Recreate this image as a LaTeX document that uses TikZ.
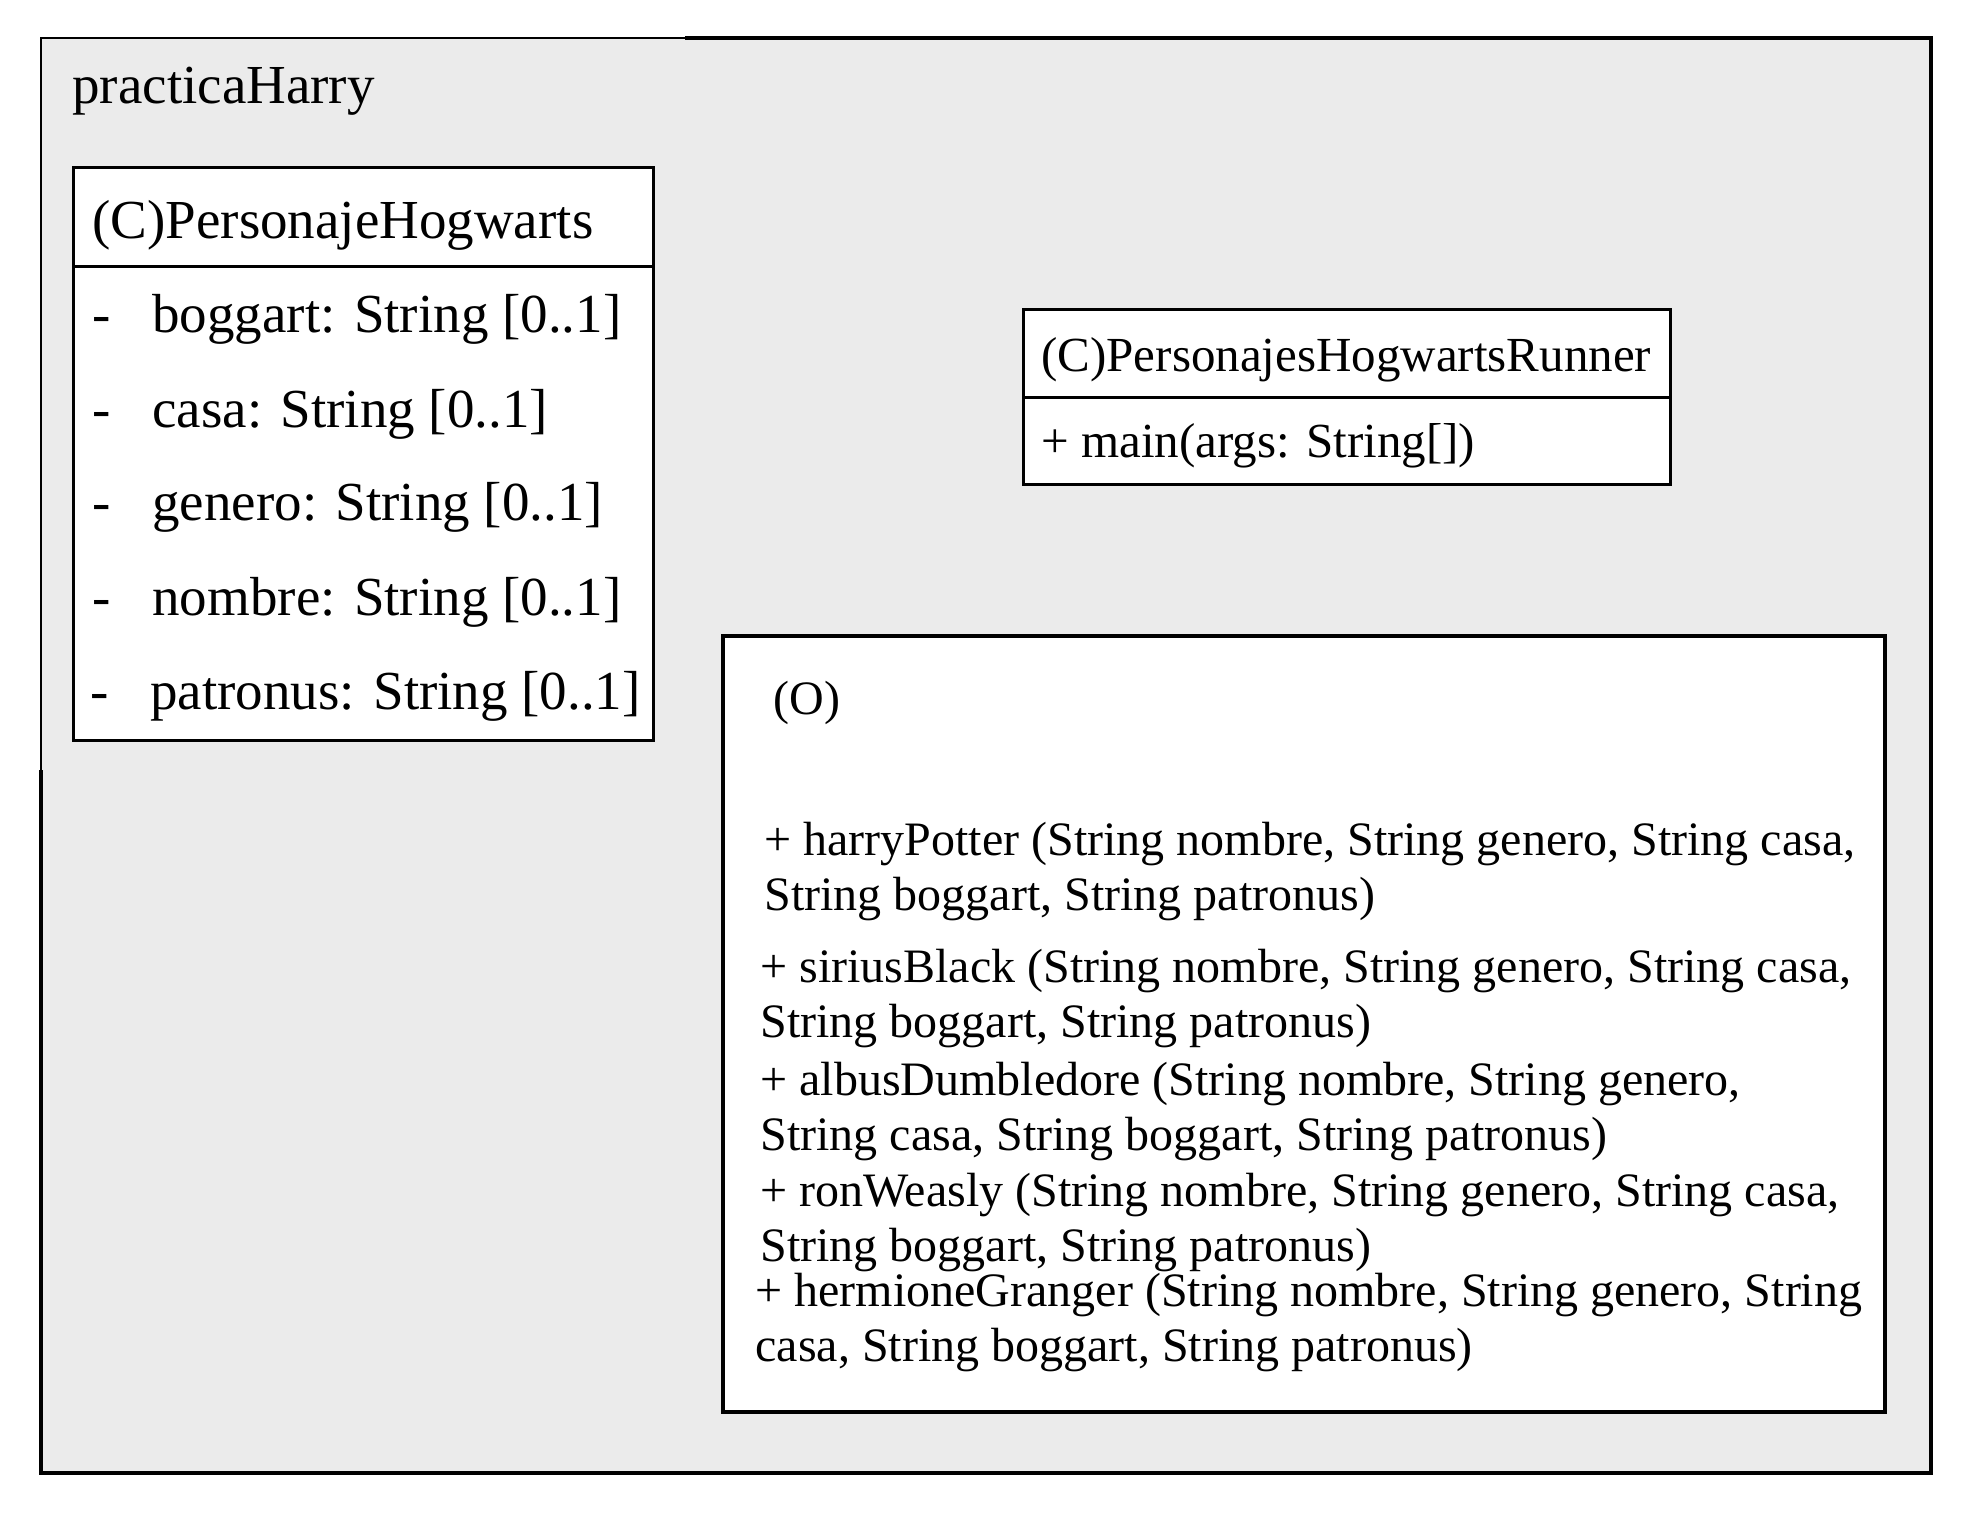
\documentclass[tikz,border=0pt]{standalone}
\usepackage{fontspec}
\setmainfont{Liberation Serif}
\definecolor{fondo}{HTML}{EBEBEB}

\begin{document}
\begin{tikzpicture}[x=0.5pt, y=-0.5pt]
    \useasboundingbox (0,0) rectangle (1974,1526);
    \begin{scope}
        \tikzstyle{every node}=[anchor=north west, inner sep=0pt, outer sep=0pt]
        \node[fill=fondo, minimum width=945pt, minimum height=717.5pt] (paquete) at (41,38) {};
        \node[draw, fill=white, line width=1.5pt, minimum width=290pt, minimum height=286.5pt] (hogwarts) at (73,167) {};
        \node[draw, fill=white, line width=1.5pt, minimum width=323.5pt, minimum height=87.5pt] (runner) at (1023,309) {};
        \node[draw, fill=white, line width=2pt, minimum width=581pt, minimum height=388pt] (objeto) at (723,636) {};
    \end{scope}
    \coordinate (cortearriba) at (685,38);
    \coordinate (corteizq) at (41,770);
    \coordinate (divhog) at (0,266);
    \coordinate (divrunner) at (0,397);
    \coordinate (colguion) at (92,0);
    \draw[line width=1.25pt] (cortearriba) -- (paquete.north west) -- (corteizq);
    \draw[line width=2pt] (cortearriba) -- (paquete.north east) -- (paquete.south east) -- (paquete.south west) -- (corteizq);
    \draw[line width=1.5pt] (hogwarts.west |- divhog) -- (hogwarts.east |- divhog);
    \draw[line width=1.5pt] (runner.west |- divrunner) -- (runner.east |- divrunner);
    \begin{scope}
        \tikzstyle{every node}=[anchor=west, inner sep=0pt, font=\fontsize{27.5}{30}\selectfont]
        \node (nombrepaquete) at (72,91) {practicaHarry};
        \node (titulohog) at (92,225) {(C)PersonajeHogwarts};
        \node (boggart) at (152,319) {boggart: String [0..1]};
        \node (casa) at (152,414) {casa: String [0..1]};
        \node (genero) at (152,507) {genero: String [0..1]};
        \node (nombre) at (152,602) {nombre: String [0..1]};
        \node (patronus) at (150,696) {patronus: String [0..1]};
        \node[anchor=base west] (guion1) at (boggart.base -| colguion) {-};
        \node[anchor=base west] (guion2) at (casa.base -| colguion) {-};
        \node[anchor=base west] (guion3) at (genero.base -| colguion) {-};
        \node[anchor=base west] (guion4) at (nombre.base -| colguion) {-};
        \node[anchor=base west, xshift=-1pt] (guion5) at (patronus.base -| colguion) {-};
    \end{scope}
    \begin{scope}
        \tikzstyle{every node}=[anchor=west, inner sep=0pt, font=\fontsize{24.5}{28}\selectfont]
        \node (titulorunner) at (1041,360) {(C)PersonajesHogwartsRunner};
        \node (metodomain) at (1041,446) {+ main(args: String[])};
    \end{scope}
    \begin{scope}
        \tikzstyle{every node}=[anchor=west, inner sep=0pt, align=left, font=\fontsize{24}{27.5}\selectfont]
        \node (etiquetao) at (773,703) {(O)};
        \node (harry) at (764,872) {+ harryPotter (String nombre, String genero, String casa,\\String boggart, String patronus)};
        \node (sirius) at (760,999) {+ siriusBlack (String nombre, String genero, String casa,\\String boggart, String patronus)};
        \node (albus) at (760,1112) {+ albusDumbledore (String nombre, String genero,\\String casa, String boggart, String patronus)};
        \node (ron) at (760,1223) {+ ronWeasly (String nombre, String genero, String casa,\\String boggart, String patronus)};
        \node (hermione) at (755,1323) {+ hermioneGranger (String nombre, String genero, String\\casa, String boggart, String patronus)};
    \end{scope}
\end{tikzpicture}
\end{document}
